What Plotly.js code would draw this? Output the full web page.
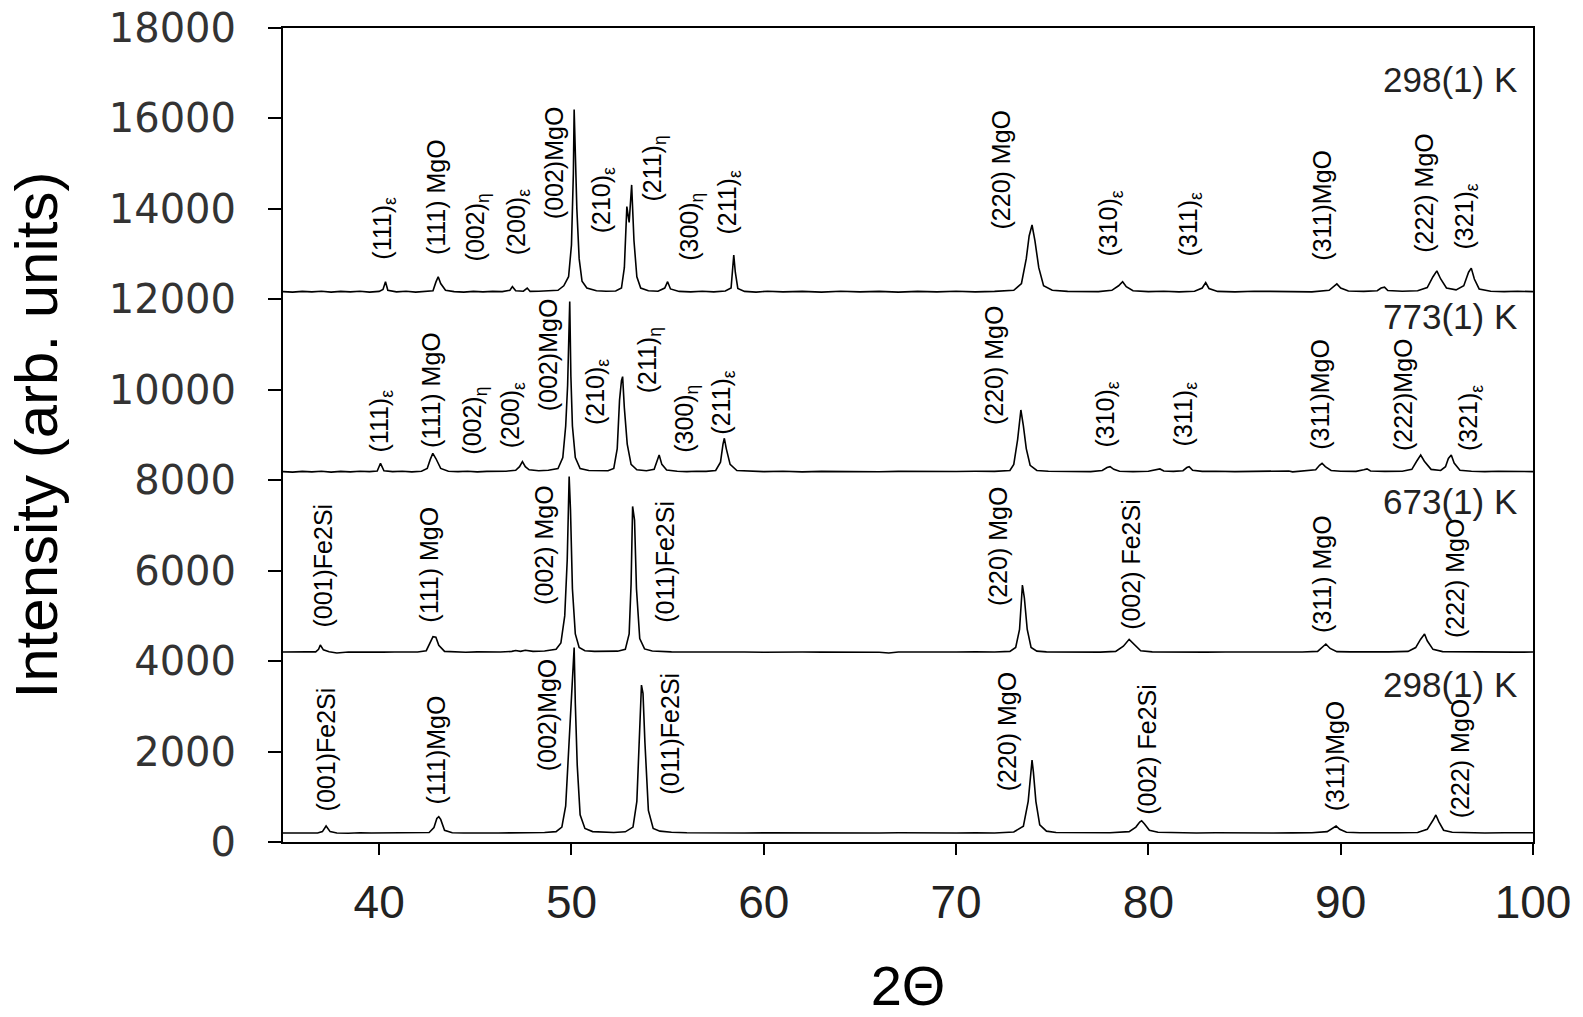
<!DOCTYPE html>
<html>
<head>
<meta charset="utf-8">
<script src="https://cdn.plot.ly/plotly-3.0.1.min.js"></script>
<style>html,body{margin:0;padding:0;background:#fff;}#chart{width:1583px;height:1017px;}</style>
</head>
<body>
<div id="chart"></div>
<script>
// ---- Data: [2Theta, intensity] ----
const scan298Fe2Si = [[35.0,200],[35.6,195],[36.2,205],[36.8,200],[37.05,230],[37.24,354],[37.45,230],[37.8,200],[38.4,195],[39.0,205],[39.6,198],[40.2,202],[40.8,195],[41.4,203],[42.0,198],[42.6,210],[42.85,320],[43.0,520],[43.1,560],[43.2,500],[43.4,260],[43.8,205],[44.4,200],[45.0,195],[45.6,205],[46.2,198],[46.8,202],[47.4,200],[48.0,205],[48.6,210],[49.2,230],[49.5,330],[49.7,800],[49.85,2000],[49.95,2810],[50.05,3500],[50.14,4300],[50.2,3070],[50.3,1700],[50.45,600],[50.7,300],[51.1,230],[51.6,215],[52.2,210],[52.8,225],[53.2,330],[53.4,900],[53.52,2030],[53.64,3470],[53.72,3290],[53.82,2200],[54.0,700],[54.25,300],[54.6,240],[55.2,215],[56,205],[57,200],[58,205],[59,198],[60,202],[61,200],[62,195],[63,205],[64,198],[64.5,190],[65,205],[65.5,192],[66,200],[67,205],[68,198],[69,202],[70,200],[71,205],[72,200],[73,220],[73.5,350],[73.75,900],[73.88,1560],[73.95,1810],[74.02,1550],[74.15,900],[74.35,380],[74.7,240],[75.2,210],[76,205],[77,200],[78,205],[79,230],[79.35,330],[79.55,440],[79.65,471],[79.8,400],[80.05,260],[80.5,215],[81.5,205],[82.5,200],[83.5,205],[84.5,198],[85.5,203],[86.5,200],[87.5,202],[88.5,205],[89.3,230],[89.6,310],[89.76,354],[89.95,280],[90.3,215],[91,205],[92,200],[93,205],[94,210],[94.5,280],[94.8,480],[94.95,597],[95.1,450],[95.35,260],[95.8,215],[96.5,205],[97.5,200],[98.5,205],[99.5,200],[100,205]];

const scan673 = [[35.0,4200],[35.6,4195],[36.2,4205],[36.7,4205],[36.85,4260],[36.94,4356],[37.1,4250],[37.4,4205],[37.8,4180],[38.4,4200],[39.0,4195],[39.6,4205],[40.2,4198],[40.8,4202],[41.4,4195],[42.0,4200],[42.45,4230],[42.65,4400],[42.8,4540],[42.95,4530],[43.1,4350],[43.4,4215],[43.9,4200],[44.5,4195],[45.1,4205],[45.7,4198],[46.3,4202],[46.9,4215],[47.1,4235],[47.35,4215],[47.6,4240],[48.0,4215],[48.6,4225],[49.2,4260],[49.45,4400],[49.65,5000],[49.78,6240],[49.88,8080],[49.95,7340],[50.05,5600],[50.2,4600],[50.4,4300],[50.7,4230],[51.2,4215],[51.8,4210],[52.4,4220],[52.8,4260],[53.0,4600],[53.1,5700],[53.18,7420],[53.28,7120],[53.38,5600],[53.55,4500],[53.8,4270],[54.2,4225],[54.6,4215],[55.2,4205],[56,4200],[57,4205],[58,4198],[59,4202],[60,4195],[61,4205],[62,4200],[63,4198],[64,4202],[65,4200],[66,4195],[66.5,4180],[67,4200],[68,4203],[69,4198],[70,4200],[71,4205],[72,4200],[72.8,4215],[73.1,4300],[73.3,4700],[73.45,5683],[73.55,5400],[73.7,4700],[73.9,4300],[74.2,4220],[74.7,4205],[75.5,4200],[76.5,4205],[77.5,4198],[78.3,4215],[78.7,4330],[79.0,4482],[79.25,4380],[79.6,4230],[80.2,4205],[81,4200],[82,4205],[83,4198],[84,4202],[85,4200],[86,4205],[87,4198],[88,4202],[88.8,4215],[89.05,4300],[89.23,4378],[89.45,4280],[89.8,4210],[90.5,4205],[91.5,4200],[92.5,4205],[93.5,4215],[93.9,4300],[94.15,4480],[94.36,4600],[94.5,4450],[94.8,4260],[95.3,4210],[96,4205],[97,4200],[98,4205],[99,4198],[100,4200]];

const scan773 = [[35.0,8190],[35.5,8180],[36.0,8195],[36.5,8185],[37.0,8200],[37.5,8180],[38.0,8195],[38.5,8185],[39.0,8200],[39.5,8190],[39.9,8205],[40.07,8374],[40.25,8210],[40.7,8190],[41.2,8200],[41.7,8185],[42.2,8200],[42.5,8260],[42.65,8450],[42.79,8595],[42.95,8480],[43.2,8260],[43.6,8200],[44.1,8190],[44.6,8200],[45.1,8185],[45.6,8195],[46.1,8190],[46.6,8200],[47.1,8220],[47.3,8300],[47.45,8410],[47.6,8300],[47.8,8230],[48.3,8210],[48.8,8220],[49.3,8260],[49.55,8500],[49.7,9200],[49.8,10100],[49.91,11950],[49.97,10300],[50.05,9200],[50.2,8500],[50.45,8260],[50.9,8215],[51.4,8205],[51.9,8210],[52.2,8260],[52.38,8700],[52.5,9770],[52.6,10200],[52.66,10290],[52.75,9600],[52.9,8800],[53.1,8350],[53.4,8230],[53.9,8210],[54.3,8240],[54.45,8450],[54.56,8558],[54.7,8350],[54.95,8225],[55.5,8200],[56.0,8190],[56.5,8200],[57.0,8195],[57.5,8215],[57.75,8400],[57.88,8800],[57.95,8927],[58.05,8700],[58.25,8350],[58.6,8215],[59.2,8200],[60,8190],[61,8200],[62,8185],[63,8195],[64,8190],[65,8200],[66,8188],[67,8195],[68,8190],[69,8200],[70,8192],[71,8198],[72,8195],[72.8,8215],[73.0,8350],[73.2,8900],[73.37,9553],[73.5,9200],[73.65,8700],[73.85,8330],[74.2,8215],[74.8,8200],[75.5,8195],[76.3,8200],[77.0,8190],[77.6,8215],[77.85,8280],[78.01,8300],[78.2,8240],[78.5,8200],[79.2,8190],[80.0,8200],[80.45,8230],[80.6,8250],[80.8,8205],[81.3,8195],[81.8,8210],[82.0,8280],[82.12,8300],[82.3,8220],[82.8,8195],[83.5,8200],[84.5,8190],[85.5,8200],[86.5,8195],[87.3,8205],[87.5,8185],[88.0,8200],[88.7,8230],[88.9,8330],[89.03,8374],[89.2,8300],[89.5,8215],[90,8200],[90.8,8195],[91.2,8230],[91.37,8250],[91.55,8205],[92.3,8195],[93.2,8200],[93.7,8240],[93.95,8420],[94.16,8558],[94.35,8420],[94.7,8240],[95.2,8215],[95.45,8300],[95.6,8480],[95.75,8558],[95.9,8380],[96.2,8220],[96.8,8200],[97.5,8190],[98.2,8200],[99,8195],[99.6,8200],[100,8190]];

const scan298 = [[35.0,12170],[35.5,12160],[36.0,12175],[36.5,12165],[37.0,12180],[37.5,12160],[38.0,12175],[38.5,12165],[39.0,12180],[39.5,12160],[40.0,12175],[40.2,12220],[40.33,12390],[40.45,12200],[40.9,12165],[41.4,12180],[41.9,12160],[42.4,12175],[42.8,12190],[42.95,12380],[43.07,12500],[43.2,12350],[43.45,12200],[43.9,12170],[44.4,12160],[44.9,12175],[45.4,12165],[45.9,12175],[46.4,12170],[46.8,12200],[46.93,12280],[47.1,12190],[47.5,12180],[47.7,12250],[47.85,12175],[48.3,12180],[48.8,12190],[49.3,12200],[49.6,12300],[49.85,12500],[50.0,13200],[50.1,14800],[50.14,16200],[50.2,15020],[50.28,14000],[50.4,12900],[50.55,12400],[50.8,12250],[51.3,12190],[51.8,12180],[52.3,12185],[52.6,12250],[52.75,12700],[52.88,14050],[53.0,13700],[53.13,14530],[53.25,13300],[53.4,12500],[53.6,12250],[54.0,12190],[54.5,12180],[54.85,12250],[55.0,12390],[55.15,12230],[55.6,12175],[56.2,12165],[56.8,12180],[57.4,12165],[58.0,12185],[58.3,12250],[58.38,12700],[58.44,12980],[58.52,12600],[58.65,12240],[59.0,12175],[59.6,12160],[60.2,12180],[61,12165],[62,12175],[63,12160],[64,12180],[65,12165],[66,12175],[67,12160],[68,12175],[69,12165],[70,12180],[71,12165],[72,12175],[73.0,12200],[73.4,12350],[73.65,12900],[73.8,13400],[73.95,13644],[74.1,13300],[74.3,12700],[74.55,12300],[75.0,12200],[75.8,12175],[76.6,12180],[77.4,12170],[78.1,12200],[78.45,12300],[78.66,12390],[78.85,12280],[79.2,12190],[80.0,12170],[80.8,12180],[81.6,12165],[82.4,12180],[82.8,12250],[82.98,12370],[83.15,12240],[83.6,12175],[84.5,12165],[85.5,12180],[86.5,12170],[87.5,12175],[88.5,12165],[89.4,12200],[89.65,12300],[89.8,12340],[90.0,12250],[90.4,12185],[91.2,12175],[91.9,12190],[92.1,12250],[92.28,12270],[92.45,12195],[93.2,12180],[94.0,12190],[94.5,12260],[94.8,12500],[95.0,12630],[95.2,12450],[95.5,12250],[96.0,12210],[96.4,12300],[96.65,12600],[96.79,12690],[96.95,12450],[97.2,12230],[97.8,12180],[98.5,12170],[99.2,12180],[100,12170]];

// ---- Peak labels: [2Theta, intensity at label start, text] ----
const labels298 = [[40.27,12830,"(111)<sub>ε</sub>"],[42.97,12940,"(111) MgO"],[45.1,12800,"(002)<sub>η</sub>"],[47.19,12940,"(200)<sub>ε</sub>"],[49.1,13720,"(002)MgO"],[51.65,13420,"(210)<sub>ε</sub>"],[54.3,14120,"(211)<sub>η</sub>"],[56.2,12800,"(300)<sub>η</sub>"],[58.2,13380,"(211)<sub>ε</sub>"],[72.36,13500,"(220) MgO"],[78.0,12900,"(310)<sub>ε</sub>"],[82.18,12900,"(311)<sub>ε</sub>"],[89.03,12800,"(311)MgO"],[94.29,12980,"(222) MgO"],[96.5,13050,"(321)<sub>ε</sub>"]];
const labels773 = [[40.1,8560,"(111)<sub>ε</sub>"],[42.7,8670,"(111) MgO"],[44.93,8520,"(002)<sub>η</sub>"],[46.93,8670,"(200)<sub>ε</sub>"],[48.75,9480,"(002)MgO"],[51.3,9185,"(210)<sub>ε</sub>"],[54.04,9880,"(211)<sub>η</sub>"],[55.95,8560,"(300)<sub>η</sub>"],[57.9,8960,"(211)<sub>ε</sub>"],[71.97,9185,"(220) MgO"],[77.83,8670,"(310)<sub>ε</sub>"],[81.92,8700,"(311)<sub>ε</sub>"],[88.95,8630,"(311)MgO"],[93.25,8595,"(222)MgO"],[96.76,8595,"(321)<sub>ε</sub>"]];
const labels673 = [[37.06,4690,"(001)Fe2Si"],[42.58,4800,"(111) MgO"],[48.6,5200,"(002) MgO"],[54.86,4800,"(011)Fe2Si"],[72.15,5170,"(220) MgO"],[79.13,4650,"(002) Fe2Si"],[89.03,4580,"(311) MgO"],[95.98,4470,"(222) MgO"]];
const labels298Fe2Si = [[37.24,634,"(001)Fe2Si"],[42.97,781,"(111)MgO"],[48.7,1520,"(002)MgO"],[55.12,1000,"(011)Fe2Si"],[72.62,1077,"(220) MgO"],[79.96,560,"(002) Fe2Si"],[89.68,634,"(311)MgO"],[96.19,486,"(222) MgO"]];

// ---- Temperature labels: [2Theta, intensity, text] ----
const tempLabels = [[99.25,16870,"298(1) K"],[99.25,11630,"773(1) K"],[99.25,7520,"673(1) K"],[99.25,3480,"298(1) K"]];

const scans = [
  {name:"298(1) K (Fe2Si)", pts:scan298Fe2Si},
  {name:"673(1) K", pts:scan673},
  {name:"773(1) K", pts:scan773},
  {name:"298(1) K", pts:scan298}
];

const traces = scans.map(s => ({
  type:"scatter", mode:"lines", name:s.name,
  x:s.pts.map(p=>p[0]), y:s.pts.map(p=>p[1]),
  line:{color:"#000", width:1.6}, hoverinfo:"x+y"
}));

const peakFont = {family:"Liberation Sans, Arial, sans-serif", size:25, color:"#000"};
const annotations = [];
[labels298, labels773, labels673, labels298Fe2Si].forEach(set => {
  set.forEach(l => annotations.push({
    x:l[0], y:l[1], xref:"x", yref:"y", text:l[2], showarrow:false,
    textangle:-90, xanchor:"center", yanchor:"bottom", font:peakFont
  }));
});
tempLabels.forEach(t => annotations.push({
  x:t[0], y:t[1], xref:"x", yref:"y", text:t[2], showarrow:false,
  xanchor:"right", yanchor:"middle",
  font:{family:"Liberation Sans, Arial, sans-serif", size:35, color:"#222"}
}));

const layout = {
  width:1583, height:1017,
  margin:{l:283, r:50, t:28, b:175},
  paper_bgcolor:"#fff", plot_bgcolor:"#fff",
  showlegend:false,
  xaxis:{
    range:[35,100], dtick:10, tick0:0,
    ticks:"outside", ticklen:11, tickwidth:2, tickcolor:"#000",
    showline:true, linewidth:2, linecolor:"#000", mirror:true,
    showgrid:false, zeroline:false,
    tickfont:{family:"Liberation Sans, Arial, sans-serif", size:46, color:"#222"},
    ticklabelstandoff:8,
    title:{text:"2Θ", font:{family:"Liberation Sans, Arial, sans-serif", size:56, color:"#000"}, standoff:72}
  },
  yaxis:{
    range:[0,18000], dtick:2000, tick0:0, tickformat:"d",
    ticks:"outside", ticklen:13, tickwidth:2, tickcolor:"#000",
    showline:true, linewidth:2, linecolor:"#000", mirror:true,
    showgrid:false, zeroline:false,
    tickfont:{family:"DejaVu Sans, Verdana, sans-serif", size:40, color:"#333"},
    ticklabelstandoff:24,
    title:{text:"Intensity (arb. units)", font:{family:"Liberation Sans, Arial, sans-serif", size:60, color:"#000"}, standoff:32}
  },
  annotations:annotations
};

Plotly.newPlot("chart", traces, layout, {displayModeBar:false, staticPlot:true});
</script>
</body>
</html>
